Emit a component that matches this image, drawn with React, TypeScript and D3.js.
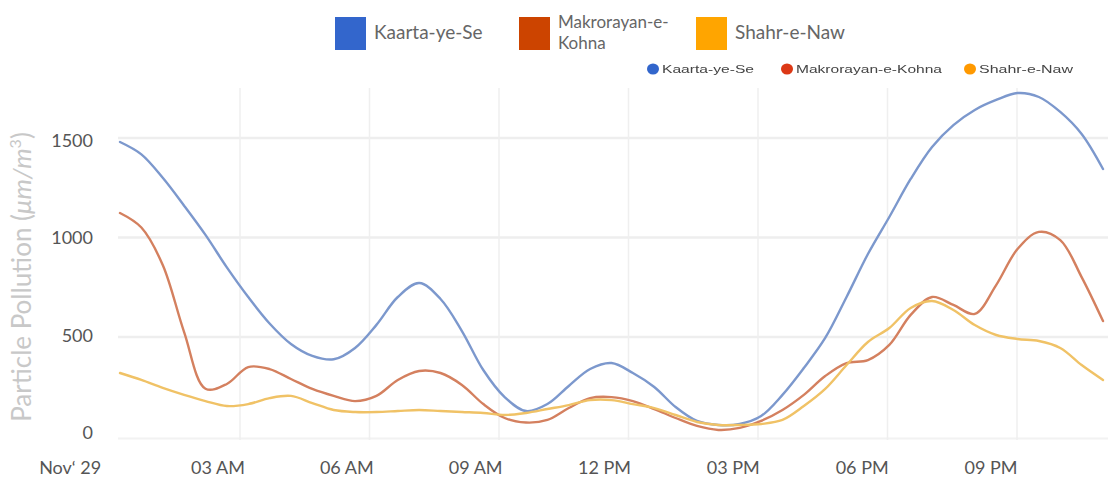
import React from "react";
import * as d3 from "d3";

// Half-hourly samples, Nov 29 00:00 .. 23:00
const hours: number[] = d3.range(0, 23.01, 0.5);

const kaarta: number[] = [
  1480, 1418, 1300, 1160, 1013, 850, 701, 568, 465, 405, 388, 445, 561, 701, 771, 691,
  530, 334, 198, 128, 163, 254, 339, 369, 319, 249, 148, 78, 58, 63, 103, 209,
  344, 495, 701, 917, 1103, 1294, 1455, 1565, 1641, 1691, 1726, 1706, 1631, 1520, 1344,
];
const makrorayan: number[] = [
  1123, 1050, 862, 525, 240, 264, 349, 339, 289, 239, 204, 178, 204, 284, 329, 319,
  259, 163, 93, 70, 83, 143, 193, 198, 178, 138, 93, 53, 33, 43, 78, 133,
  209, 304, 369, 384, 460, 611, 701, 661, 616, 761, 942, 1028, 987, 801, 580,
];
const shahr: number[] = [
  319, 284, 244, 209, 178, 153, 163, 193, 204, 168, 133, 123, 123, 128, 133, 128,
  123, 118, 108, 118, 138, 158, 183, 183, 163, 143, 108, 73, 58, 58, 63, 83,
  153, 239, 359, 475, 545, 646, 681, 636, 560, 510, 490, 480, 445, 359, 284,
];

const seriesNames = ["Kaarta-ye-Se", "Makrorayan-e-Kohna", "Shahr-e-Naw"];
const seriesValues = [kaarta, makrorayan, shahr];
const legendColors = ["#3366CC", "#CC4400", "#FFA500"];
const lineColors = ["#7c98cd", "#d4805f", "#f0c266"];
const dotColors = ["#3366cc", "#dc3912", "#ff9900"];

const yTicks: number[] = [0, 500, 1000, 1500];
const gridHours: number[] = [3, 6, 9, 12, 15, 18, 21];
const xTickHours: number[] = [0, 3, 6, 9, 12, 15, 18, 21];
const xTickLabels: string[] = ["Nov‘ 29", "03 AM", "06 AM", "09 AM", "12 PM", "03 PM", "06 PM", "09 PM"];

const W = 1111;
const H = 477;

export default function App() {
  // inner (plot image) scales
  const xLine = d3.scaleLinear().domain([0, 23]).range([120, 1103]);
  const xGrid = d3.scaleLinear().domain([3, 21]).range([240, 1017]);
  const yInner = d3.scaleLinear().domain([0, 1500]).range([436.5, 138]);
  // outer axis scales
  const xLabel = d3.scaleLinear().domain([3, 21]).range([218, 991]);
  const yLabel = d3.scaleLinear().domain([0, 1500]).range([432, 140]);

  const line = d3
    .line<number>()
    .x((_, i) => xLine(hours[i]))
    .y((d) => yInner(d))
    .curve(d3.curveCatmullRom.alpha(0.5));

  const font = "Lato, 'Noto Sans', sans-serif";

  const topLegend = [
    { x: 335, lines: ["Kaarta-ye-Se"] },
    { x: 519, lines: ["Makrorayan-e-", "Kohna"] },
    { x: 696, lines: ["Shahr-e-Naw"] },
  ];
  const smallLegend = [
    { cx: 653, tx: 662, len: 92 },
    { cx: 787, tx: 796, len: 146 },
    { cx: 970, tx: 979, len: 94 },
  ];

  return (
    <svg
      width={W}
      height={H}
      style={{ position: "absolute", left: 0, top: 0, background: "#fff" }}
      fontFamily={font}
    >
      <defs>
        <filter id="soft" x="-5%" y="-5%" width="110%" height="110%">
          <feGaussianBlur stdDeviation="0.45" />
        </filter>
      </defs>

      {/* top legend */}
      {topLegend.map((l, i) => (
        <g key={i}>
          <rect x={l.x} y={17} width={31} height={33} fill={legendColors[i]} />
          {l.lines.map((s, j) => (
            <text
              key={j}
              x={l.x + 39}
              y={l.lines.length === 1 ? 39 : 28 + j * 21}
              fontSize={l.lines.length === 1 ? 19 : 17}
              fill="#666"
            >
              {s}
            </text>
          ))}
        </g>
      ))}

      {/* inner chart image */}
      <g filter="url(#soft)">
        {yTicks.slice(1).map((t) => (
          <line
            key={t}
            x1={118}
            x2={1108}
            y1={yInner(t)}
            y2={yInner(t)}
            stroke="#eeeeee"
            strokeWidth={2.5}
          />
        ))}
        <line x1={118} x2={1108} y1={yInner(0) + 2} y2={yInner(0) + 2} stroke="#f2f2f2" strokeWidth={2} />
        {gridHours.map((h) => (
          <line
            key={h}
            x1={xGrid(h)}
            x2={xGrid(h)}
            y1={88}
            y2={440}
            stroke="#efefef"
            strokeWidth={1.5}
          />
        ))}

        {/* small legend */}
        {smallLegend.map((s, i) => (
          <g key={i}>
            <ellipse cx={s.cx} cy={69} rx={6} ry={5.5} fill={dotColors[i]} />
            <text
              x={s.tx}
              y={73}
              fontSize={11}
              fontFamily="'Liberation Sans', Arial, sans-serif"
              fill="#444"
              textLength={s.len}
              lengthAdjust="spacingAndGlyphs"
            >
              {seriesNames[i]}
            </text>
          </g>
        ))}

        {seriesValues.map((vals, i) => (
          <path
            key={i}
            d={line(vals) || ""}
            fill="none"
            stroke={lineColors[i]}
            strokeWidth={2.4}
            strokeLinejoin="round"
            strokeLinecap="round"
          />
        ))}
      </g>

      {/* y axis labels */}
      {yTicks.map((t) => (
        <text
          key={t}
          x={93}
          y={yLabel(t)}
          textAnchor="end"
          dominantBaseline="central"
          fontSize={18}
          fill="#555"
        >
          {t}
        </text>
      ))}

      {/* x axis labels */}
      {xTickHours.map((h, i) => (
        <text
          key={h}
          x={xLabel(h) + (i === 0 ? -19 : 0)}
          y={474}
          textAnchor="middle"
          fontSize={18}
          fill="#555"
        >
          {xTickLabels[i]}
        </text>
      ))}

      {/* y axis title */}
      <text
        transform="translate(31,277) rotate(-90)"
        textAnchor="middle"
        fontSize={26}
        fill="#c8c8c8"
      >
        Particle Pollution (
        <tspan fontStyle="italic">μm/m</tspan>
        <tspan fontSize={16} dy={-10}>3</tspan>
        <tspan dy={10}>)</tspan>
      </text>
    </svg>
  );
}
